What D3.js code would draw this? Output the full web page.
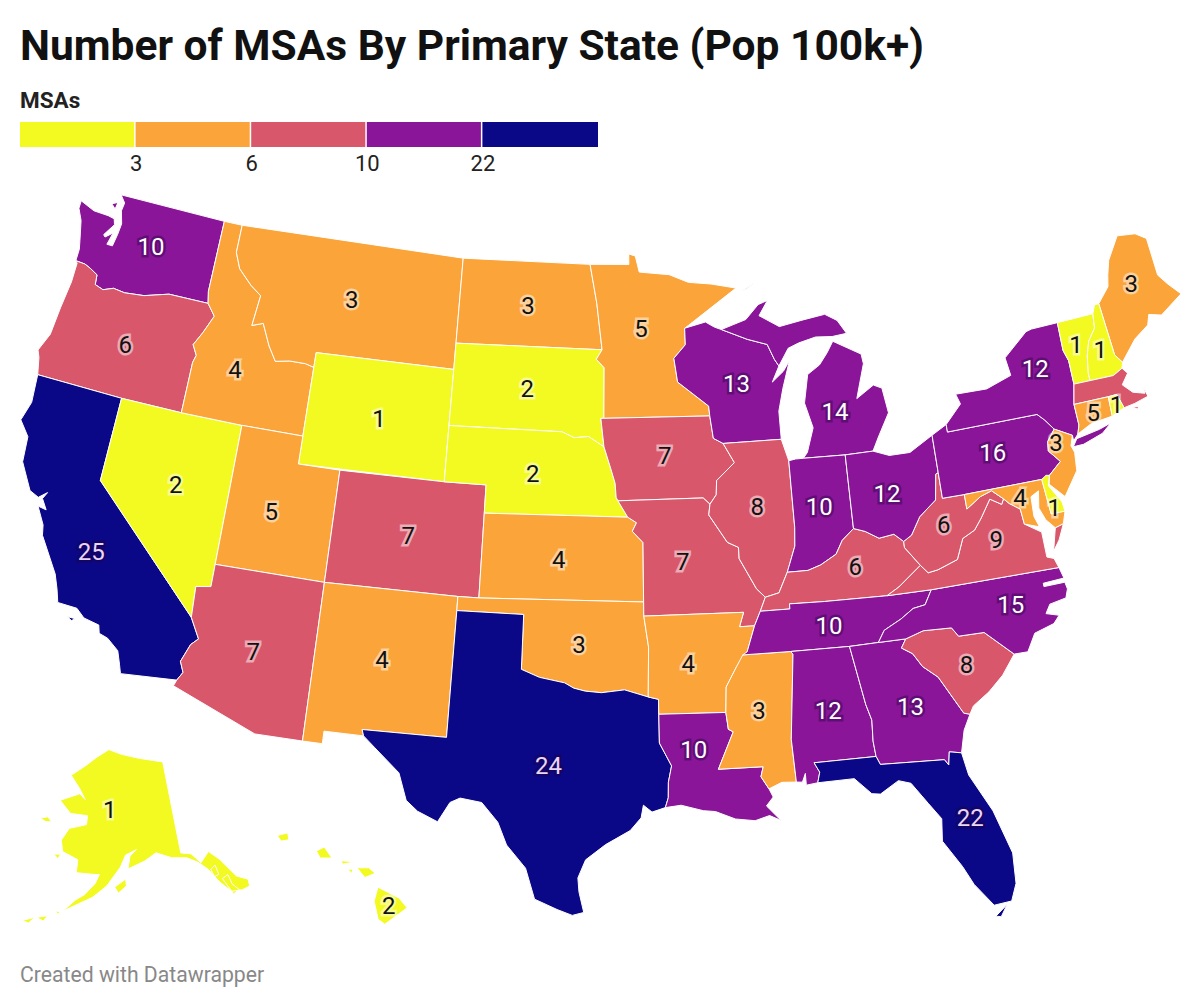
<!DOCTYPE html>
<html>
<head>
<meta charset="utf-8">
<script src="https://cdn.jsdelivr.net/npm/d3@7"></script>
<style>
  body { margin: 0; background: #fff; font-family: Roboto, sans-serif; }
  text { font-family: Roboto, sans-serif; }
</style>
</head>
<body>
<div id="chart"></div>
<script>
// chart values
const stateNames = ['WA','OR','CA','NV','ID','MT','WY','UT','CO','AZ','NM','ND','SD','NE','KS','OK','TX','MN','IA','MO','AR','LA','WI','IL','MS','MI','IN','KY','TN','AL','GA','FL','SC','NC','VA','WV','OH','PA','NY','ME','VT','NH','MA','CT','RI','NJ','MD','DE','AK','HI']
const msaCounts  = [10,6,25,2,4,3,1,5,7,7,4,3,2,2,4,3,24,5,7,7,4,10,13,8,3,14,10,6,10,12,13,22,8,15,9,6,12,16,12,3,1,1,6,5,1,3,4,1,1,2]
// label anchors in degrees (MA has no label in the picture)
const labelLon = [-120.5,-120.5,-119.6,-116.55,-114.9,-109.65,-107.5,-111.95,-105.5,-111.7,-106.1,-100.45,-100.3,-99.85,-98.5,-97.5,-98.7,-94.55,-93.5,-92.8,-92.7,-92.6,-89.8,-89.2,-89.75,-85.05,-86.3,-84.95,-86.4,-86.8,-83.3,-81.5,-80.65,-78.3,-78.4,-80.65,-83.05,-77.8,-74.95,-69.2,-72.7,-71.6,null,-72.7,-71.5,-74.75,-76.95,-75.5,-155.8,-155.5]
const labelLat = [47.5,43.9,36.5,39.5,43.9,47.07,43.0,39.2,39.0,34.2,34.55,47.45,44.5,41.5,38.5,35.5,31.2,46.7,42.15,38.4,34.8,31.75,44.6,40.2,33.0,43.3,40.0,37.75,35.8,32.8,32.6,28.4,33.8,35.6,37.95,38.8,40.2,41.0,43.6,45.7,44.1,43.7,null,41.6,41.7,40.9,39.25,38.65,65.3,19.6]

// colour bins
const binBreaks = [3, 6, 10, 22]
const binColors = ['#f2fa21', '#faa43a', '#d9576b', '#8a1599', '#0b0887']

const titleText = 'Number of MSAs By Primary State (Pop 100k+)'
const legendTitle = 'MSAs'
const footerText = 'Created with Datawrapper'

// state outlines, lon/lat rings
const outlines = {
  WA: [[[-124.7,48.38],[-123.9,48.17],[-123.1,48.15],[-122.75,48.1],[-122.65,47.9],[-123.05,47.45],[-122.95,47.38],[-122.6,47.6],[-122.75,47.15],[-122.45,47.15],[-122.35,47.6],[-122.3,48.0],[-122.5,48.45],[-122.45,48.75],[-122.75,49.0],[-117.03,49.0],[-117.04,46.42],[-116.92,46.0],[-118.98,46.0],[-119.3,45.93],[-120.2,45.73],[-121.2,45.65],[-121.8,45.7],[-122.3,45.55],[-122.75,45.65],[-122.8,46.0],[-123.2,46.15],[-123.55,46.25],[-124.05,46.27],[-124.05,46.7],[-124.15,47.0],[-124.4,47.7],[-124.7,48.1]],
       [[-123.1,48.6],[-122.8,48.7],[-122.85,48.45]]],
  OR: [[[-124.05,46.27],[-123.55,46.25],[-123.2,46.15],[-122.8,46.0],[-122.75,45.65],[-122.3,45.55],[-121.8,45.7],[-121.2,45.65],[-120.2,45.73],[-119.3,45.93],[-118.98,46.0],[-116.92,46.0],[-116.47,45.6],[-116.85,44.95],[-117.2,44.45],[-116.93,44.1],[-117.03,43.83],[-117.03,42.0],[-120,42],[-124.21,42],[-124.4,42.6],[-124.55,42.84],[-124.2,43.5],[-124.1,44.5],[-123.95,45.5],[-123.95,46.2]]],
  CA: [[[-124.21,42],[-120,42],[-120,39],[-114.63,35.0],[-114.14,34.3],[-114.43,34.05],[-114.72,33.4],[-114.52,33.03],[-114.72,32.72],[-117.12,32.53],[-117.25,32.85],[-117.45,33.3],[-118.0,33.65],[-118.4,33.75],[-118.5,34.03],[-119.2,34.15],[-119.6,34.42],[-120.47,34.45],[-120.65,34.9],[-120.9,35.4],[-121.9,36.6],[-122.0,36.96],[-122.45,37.55],[-122.05,37.5],[-122.35,37.85],[-122.2,38.1],[-122.55,37.85],[-123.0,38.0],[-123.7,38.9],[-123.8,39.8],[-124.35,40.3],[-124.1,41.0]],
       [[-119.9,34.05],[-119.55,34.05],[-119.7,33.95]]],
  NV: [[[-120,42],[-117.03,42],[-114.04,42],[-114.04,37],[-114.04,36.2],[-114.7,36.1],[-114.63,35],[-120,39]]],
  ID: [[[-117.03,49],[-116.05,49],[-116.05,48],[-115.7,47.45],[-114.95,46.95],[-114.35,46.65],[-114.5,45.55],[-113.95,45.7],[-113.45,44.95],[-113,44.45],[-112.3,44.55],[-111.5,44.55],[-111.05,44.47],[-111.05,42],[-114.04,42],[-117.03,42],[-117.03,43.83],[-116.93,44.1],[-117.2,44.45],[-116.85,44.95],[-116.47,45.6],[-116.92,46],[-117.04,46.42]]],
  MT: [[[-116.05,49],[-104.05,49],[-104.05,45.94],[-104.05,45],[-111.05,45],[-111.05,44.47],[-111.5,44.55],[-112.3,44.55],[-113,44.45],[-113.45,44.95],[-113.95,45.7],[-114.5,45.55],[-114.35,46.65],[-114.95,46.95],[-115.7,47.45],[-116.05,48]]],
  WY: [[[-111.05,45],[-104.05,45],[-104.05,43],[-104.05,41],[-111.05,41],[-111.05,42]]],
  UT: [[[-114.04,42],[-111.05,42],[-111.05,41],[-109.05,41],[-109.05,37],[-114.04,37]]],
  CO: [[[-109.05,41],[-104.05,41],[-102.05,41],[-102.05,40],[-102.05,37],[-103,37],[-109.05,37]]],
  AZ: [[[-114.04,37],[-109.05,37],[-109.05,31.33],[-111.07,31.33],[-114.81,32.5],[-114.72,32.72],[-114.52,33.03],[-114.72,33.4],[-114.43,34.05],[-114.14,34.3],[-114.63,35],[-114.7,36.1],[-114.04,36.2]]],
  NM: [[[-109.05,37],[-103,37],[-103,36.5],[-103.04,32],[-106.62,32],[-106.53,31.78],[-108.21,31.78],[-108.21,31.33],[-109.05,31.33]]],
  ND: [[[-104.05,49],[-97.23,49],[-96.85,47.6],[-96.56,45.94],[-104.05,45.94]]],
  SD: [[[-104.05,45.94],[-96.56,45.94],[-96.85,45.6],[-96.45,45.3],[-96.45,43.5],[-96.6,43.5],[-96.44,42.49],[-97.2,42.85],[-97.9,42.8],[-98.5,43],[-104.05,43]]],
  NE: [[[-104.05,43],[-98.5,43],[-97.9,42.8],[-97.2,42.85],[-96.44,42.49],[-96.1,41.7],[-95.9,41.2],[-95.85,40.7],[-95.31,40],[-102.05,40],[-102.05,41],[-104.05,41]]],
  KS: [[[-102.05,40],[-95.31,40],[-94.9,39.8],[-95.1,39.5],[-94.61,39.1],[-94.62,37],[-102.05,37]]],
  OK: [[[-103,37],[-102.05,37],[-94.62,37],[-94.62,36.5],[-94.43,35.4],[-94.48,33.64],[-95.5,33.9],[-96.5,33.8],[-97.2,33.85],[-97.7,33.95],[-98.1,34.13],[-99.2,34.3],[-100,34.56],[-100,36.5],[-103,36.5]]],
  TX: [[[-106.62,32],[-103.04,32],[-103,36.5],[-100,36.5],[-100,34.56],[-99.2,34.3],[-98.1,34.13],[-97.7,33.95],[-97.2,33.85],[-96.5,33.8],[-95.5,33.9],[-94.48,33.64],[-94.04,33.55],[-94.04,33.02],[-94.04,32],[-93.55,31.18],[-93.7,30.6],[-93.72,30.05],[-93.85,29.7],[-94.4,29.55],[-94.75,29.8],[-94.85,29.35],[-95.3,28.9],[-96.3,28.4],[-97.1,27.85],[-97.4,27.2],[-97.35,26.7],[-97.15,25.96],[-97.6,25.85],[-98.2,26.05],[-99.1,26.4],[-99.5,27.5],[-100.3,28.3],[-100.7,29.1],[-101.4,29.77],[-102.3,29.88],[-102.7,29.7],[-103.15,28.98],[-104,29.3],[-104.5,29.65],[-104.9,30.6],[-106,31.4],[-106.53,31.78]]],
  MN: [[[-97.23,49],[-95.15,49],[-95.15,49.38],[-94.8,49.3],[-94.6,48.72],[-93,48.6],[-92,48.3],[-90.8,48.2],[-89.5,48],[-92.1,46.75],[-92.29,46.66],[-92.29,46.07],[-92.9,45.6],[-92.75,44.75],[-91.25,43.85],[-91.22,43.5],[-96.45,43.5],[-96.45,45.3],[-96.85,45.6],[-96.56,45.94],[-96.85,47.6]]],
  IA: [[[-96.45,43.5],[-91.22,43.5],[-91.1,42.7],[-90.64,42.5],[-90.15,41.8],[-91.05,41.2],[-91.1,40.7],[-91.42,40.38],[-91.73,40.61],[-95.77,40.58],[-95.85,40.7],[-95.9,41.2],[-96.1,41.7],[-96.44,42.49],[-96.6,43.5]]],
  MO: [[[-95.77,40.58],[-91.73,40.61],[-91.42,40.38],[-91.5,40],[-90.7,39],[-90.2,38.8],[-90.2,38.4],[-89.5,37.3],[-89.13,36.98],[-89.4,36.5],[-89.7,36],[-90.37,36],[-90.15,36.5],[-94.62,36.5],[-94.62,37],[-94.61,39.1],[-95.1,39.5],[-94.9,39.8],[-95.31,40]]],
  AR: [[[-94.62,36.5],[-90.15,36.5],[-90.37,36],[-89.7,36],[-90.1,35.1],[-90.6,34.6],[-91.1,33.9],[-91.17,33],[-94.04,33.02],[-94.04,33.55],[-94.48,33.64],[-94.43,35.4]]],
  LA: [[[-94.04,33.02],[-91.17,33],[-91.1,32.4],[-90.9,32.3],[-91.6,31],[-89.73,31],[-89.85,30.65],[-89.55,30.2],[-89.4,29.9],[-89.7,29.6],[-89.15,29.05],[-89.6,29.25],[-90.2,29.1],[-91,29.2],[-91.8,29.5],[-92.3,29.55],[-93.2,29.77],[-93.85,29.7],[-93.72,30.05],[-93.7,30.6],[-93.55,31.18],[-94.04,32]]],
  WI: [[[-92.29,46.66],[-91.2,46.85],[-90.75,46.65],[-90.4,46.55],[-89.1,46.14],[-88.1,45.9],[-87.8,45.35],[-87.6,45.1],[-88,44.55],[-87.4,44.9],[-87.05,45.25],[-87.5,44.3],[-87.8,43.5],[-87.8,42.5],[-90.64,42.5],[-91.1,42.7],[-91.22,43.5],[-91.25,43.85],[-92.75,44.75],[-92.9,45.6],[-92.29,46.07]]],
  IL: [[[-90.64,42.5],[-87.8,42.5],[-87.53,41.72],[-87.53,39.35],[-87.6,38.7],[-87.95,38],[-88.05,37.8],[-88.5,37.1],[-89.13,36.98],[-89.5,37.3],[-90.2,38.4],[-90.2,38.8],[-90.7,39],[-91.5,40],[-91.42,40.38],[-91.1,40.7],[-91.05,41.2],[-90.15,41.8]]],
  MS: [[[-90.3,35],[-88.2,35],[-88.1,34.9],[-88.47,31.9],[-88.4,30.37],[-89,30.4],[-89.55,30.2],[-89.85,30.65],[-89.73,31],[-91.6,31],[-90.9,32.3],[-91.1,32.4],[-91.17,33],[-91.1,33.9],[-90.6,34.6]]],
  MI: [[[-86.82,41.76],[-84.8,41.72],[-83.45,41.73],[-83.1,42.2],[-82.45,43],[-82.6,43.9],[-83,44.05],[-83.9,43.65],[-83.35,44.85],[-83.4,45.2],[-84.75,45.78],[-85.1,45.4],[-85.55,45],[-86.2,44.7],[-86.5,43.7],[-86.2,42.8],[-86.6,41.95]],
       [[-90.4,46.55],[-89.1,46.85],[-88.4,47.35],[-87.9,47.47],[-88.4,46.95],[-87.4,46.5],[-86.2,46.65],[-85,46.77],[-84.4,46.5],[-84,46],[-84.75,45.95],[-85.6,46],[-86.5,45.85],[-87.05,45.7],[-87.6,45.1],[-87.8,45.35],[-88.1,45.9],[-89.1,46.14]],
       [[-89.2,47.87],[-88.45,48.17],[-88.95,47.95]]],
  IN: [[[-87.53,41.72],[-87.2,41.76],[-86.82,41.76],[-84.8,41.72],[-84.82,39.1],[-85.4,38.73],[-85.75,38.27],[-86.5,37.95],[-87.1,37.8],[-88.05,37.8],[-87.95,38],[-87.6,38.7],[-87.53,39.35]]],
  KY: [[[-89.4,36.5],[-88.07,36.5],[-88.07,36.68],[-86.5,36.65],[-83.68,36.6],[-83.1,36.85],[-82,37.5],[-82.6,38.2],[-82.6,38.42],[-83,38.72],[-83.7,38.65],[-84.3,38.95],[-84.82,39.1],[-85.4,38.73],[-85.75,38.27],[-86.5,37.95],[-87.1,37.8],[-88.05,37.8],[-88.5,37.1],[-89.13,36.98]]],
  TN: [[[-90.3,35],[-88.2,35],[-85.6,34.98],[-84.32,35],[-84,35.4],[-83.2,35.72],[-82.6,36.03],[-82.05,36.1],[-81.68,36.59],[-83.68,36.6],[-86.5,36.65],[-88.07,36.68],[-88.07,36.5],[-89.4,36.5],[-89.7,36],[-90.1,35.1]]],
  AL: [[[-88.2,35],[-85.6,34.98],[-85.18,32.87],[-85,32.3],[-85.05,31.55],[-85,31],[-87.6,31],[-87.4,30.65],[-87.52,30.28],[-88,30.23],[-88,30.65],[-88.15,30.35],[-88.4,30.37],[-88.47,31.9],[-88.1,34.9]]],
  GA: [[[-85.6,34.98],[-84.32,35],[-83.11,35],[-83.35,34.7],[-82.9,34.45],[-82.55,33.95],[-81.95,33.5],[-81.4,32.6],[-81.1,32.1],[-80.85,32.03],[-81.2,31.5],[-81.45,30.72],[-81.95,30.82],[-82.05,30.36],[-82.2,30.57],[-84.86,30.7],[-85,31],[-85.05,31.55],[-85,32.3],[-85.18,32.87]]],
  FL: [[[-87.6,31],[-85,31],[-84.86,30.7],[-82.2,30.57],[-82.05,30.36],[-81.95,30.82],[-81.45,30.72],[-81.3,29.9],[-80.55,28.5],[-80.05,26.9],[-80.12,25.8],[-80.4,25.2],[-81.1,25.15],[-81.75,26],[-82.1,26.7],[-82.75,27.7],[-82.65,28.5],[-83.1,29.1],[-83.7,29.9],[-84.2,30.05],[-85,29.65],[-85.35,29.7],[-86,30.3],[-87.52,30.28],[-87.4,30.65]],
       [[-80.6,25.1],[-81.1,24.75],[-80.9,24.7]]],
  SC: [[[-83.11,35],[-82.3,35.2],[-81.05,35.15],[-80.8,34.82],[-79.67,34.8],[-78.55,33.86],[-79.2,33.2],[-79.9,32.7],[-80.65,32.3],[-80.85,32.03],[-81.1,32.1],[-81.4,32.6],[-81.95,33.5],[-82.55,33.95],[-82.9,34.45],[-83.35,34.7]]],
  NC: [[[-84.32,35],[-83.11,35],[-82.3,35.2],[-81.05,35.15],[-80.8,34.82],[-79.67,34.8],[-78.55,33.86],[-77.95,33.85],[-77.5,34.45],[-76.6,34.65],[-76.3,34.9],[-76.85,35.05],[-76.6,35.35],[-75.85,35.45],[-75.7,35.75],[-75.75,36.0],[-76.7,36.0],[-76.7,36.12],[-75.75,36.15],[-75.87,36.55],[-81.68,36.59],[-82.05,36.1],[-82.6,36.03],[-83.2,35.72],[-84,35.4]]],
  VA: [[[-83.68,36.6],[-81.68,36.59],[-75.87,36.55],[-76,36.9],[-76.3,37],[-76.3,37.9],[-77,38.3],[-77.05,38.85],[-77.5,39.12],[-77.72,39.32],[-77.85,39.14],[-78.35,39.4],[-78.9,38.8],[-79.3,38.42],[-79.9,38.2],[-80.3,37.5],[-81.25,37.25],[-81.7,37.2],[-82,37.5],[-83.1,36.85]],
       [[-75.95,37.15],[-75.65,37.95],[-75.25,38.03],[-75.6,37.5]]],
  WV: [[[-82.6,38.42],[-82.6,38.2],[-82,37.5],[-81.7,37.2],[-81.25,37.25],[-80.3,37.5],[-79.9,38.2],[-79.3,38.42],[-78.9,38.8],[-78.35,39.4],[-77.85,39.14],[-77.72,39.32],[-78.2,39.68],[-78.75,39.55],[-79.48,39.2],[-79.48,39.72],[-80.52,39.72],[-80.52,40.64],[-80.65,40.6],[-80.85,39.7],[-81.7,39.2],[-82.2,38.6]]],
  OH: [[[-84.8,41.72],[-83.45,41.73],[-82.7,41.5],[-81.7,41.5],[-80.52,41.98],[-80.52,40.64],[-80.65,40.6],[-80.85,39.7],[-81.7,39.2],[-82.2,38.6],[-82.6,38.42],[-83,38.72],[-83.7,38.65],[-84.3,38.95],[-84.82,39.1]]],
  PA: [[[-80.52,41.98],[-79.76,42.27],[-79.76,42],[-75.35,42],[-75.05,41.75],[-74.7,41.36],[-75.13,40.98],[-75.2,40.65],[-74.75,40.2],[-75.4,39.8],[-75.79,39.72],[-79.48,39.72],[-80.52,39.72],[-80.52,40.64]]],
  NY: [[[-79.76,42.27],[-78.9,42.9],[-79.05,43.27],[-77.5,43.25],[-76.2,43.55],[-76.3,44.2],[-75,44.95],[-74.7,45],[-73.35,45.01],[-73.4,44],[-73.25,43.6],[-73.27,42.75],[-73.5,42.05],[-73.5,41.3],[-73.65,41],[-73.92,40.8],[-73.92,41],[-74.7,41.36],[-75.05,41.75],[-75.35,42],[-79.76,42]],
       [[-74,40.6],[-73.75,40.85],[-72.6,40.98],[-72,41.1],[-72.5,40.82],[-73.5,40.6]]],
  ME: [[[-71.08,45.3],[-70.4,45.8],[-70.25,46.2],[-70,46.7],[-69.23,47.46],[-68.3,47.35],[-67.8,47.07],[-67.8,45.7],[-67.45,45.3],[-66.95,44.82],[-68.2,44.3],[-68.8,44.45],[-69,44.1],[-69.8,43.75],[-70.7,43.07],[-70.98,43.4]]],
  VT: [[[-73.35,45.01],[-71.5,45.01],[-71.6,44.5],[-72.05,44.1],[-72.3,43.6],[-72.46,43],[-72.46,42.73],[-73.27,42.75],[-73.25,43.6],[-73.4,44]]],
  NH: [[[-71.5,45.01],[-71.3,45.3],[-71.08,45.3],[-70.98,43.4],[-70.7,43.07],[-70.8,42.87],[-71.3,42.7],[-72.46,42.73],[-72.46,43],[-72.3,43.6],[-72.05,44.1],[-71.6,44.5]]],
  MA: [[[-73.5,42.05],[-73.27,42.75],[-71.3,42.7],[-70.8,42.87],[-70.6,42.65],[-71,42.3],[-70.6,41.95],[-70.05,41.8],[-70.05,42.05],[-69.95,41.67],[-70.65,41.55],[-71.2,41.5],[-71.38,42.02],[-71.8,42.02]],
       [[-70.8,41.45],[-70.5,41.4],[-70.6,41.33]]],
  CT: [[[-73.5,42.05],[-71.8,42.02],[-71.85,41.32],[-72.9,41.25],[-73.65,41],[-73.5,41.3]]],
  RI: [[[-71.8,42.02],[-71.38,42.02],[-71.2,41.5],[-71.85,41.32]]],
  NJ: [[[-74.7,41.36],[-73.92,41],[-74.1,40.65],[-74,40.4],[-74.1,39.75],[-74.9,38.95],[-75.5,39.5],[-75.4,39.8],[-74.75,40.2],[-75.2,40.65],[-75.13,40.98]]],
  MD: [[[-79.48,39.72],[-75.79,39.72],[-75.7,38.46],[-75.05,38.45],[-75.25,38.03],[-75.65,37.95],[-76,38.3],[-76.2,38.75],[-76.05,39.35],[-76.45,39.2],[-76.5,38.5],[-76.35,38.1],[-77,38.3],[-77.05,38.85],[-77.5,39.12],[-77.72,39.32],[-78.2,39.68],[-78.75,39.55],[-79.48,39.2]]],
  DE: [[[-75.79,39.72],[-75.55,39.83],[-75.4,39.8],[-75.55,39.45],[-75.1,38.8],[-75.05,38.45],[-75.7,38.46]]],
  AK: [[[-156.6,71.35],[-153,70.9],[-148,70.4],[-144,70],[-141,69.65],[-141,60.3],[-139,60],[-137.5,58.9],[-135.5,59.8],[-133.8,58.7],[-131.8,56.6],[-130,55.9],[-130.2,55.2],[-131.6,55.1],[-133.5,55.3],[-135,56.5],[-136.5,58.1],[-138,59],[-140,59.7],[-143,60],[-146,60.7],[-148.5,60],[-151.9,59.3],[-151.4,60.6],[-150,61.2],[-152.3,60.7],[-153.4,59.5],[-156,57.6],[-158.5,56.4],[-161,55.6],[-163.5,54.7],[-161.5,56],[-160,56.6],[-158.2,57.8],[-157.5,58.7],[-159,58.7],[-162,58.7],[-162,60],[-165.3,60.6],[-166,61.7],[-164.7,63],[-161,63.6],[-161,64.5],[-165,64.5],[-168,65.6],[-163.5,66.6],[-162,66.1],[-163.7,67.1],[-166.5,68.3],[-163,69.5],[-160,70.5]],
       [[-154.5,57.5],[-152.4,58.3],[-152.3,57.6],[-153.8,56.9]],
       [[-167,60.2],[-165.6,60.3],[-166,59.8]],
       [[-171.5,63.4],[-170,63.7],[-168.8,63.3],[-170.2,63.2]],
       [[-164.8,54.6],[-163.9,54.6],[-164.3,54.35]],
       [[-167.8,53.6],[-166,54],[-166.5,53.4]],
       [[-170,53],[-168,53.6],[-168.9,52.9]],
       [[-136,58],[-135,58.3],[-134.8,57.3],[-135.7,57.2]],
       [[-134.4,56.8],[-133.2,57],[-133,56],[-132.1,55.2],[-133.3,55]]],
  HI: [[[-155.9,20.25],[-155.1,19.85],[-154.8,19.5],[-155.65,18.92],[-155.9,19.1],[-156.05,19.75]],
       [[-156.7,20.95],[-156.25,20.95],[-156,20.75],[-156.4,20.6]],
       [[-157.3,21.2],[-156.75,21.17],[-157.25,21.08]],
       [[-157.05,20.9],[-156.85,20.9],[-156.9,20.75]],
       [[-158.25,21.55],[-157.95,21.7],[-157.65,21.3],[-158.1,21.3]],
       [[-159.75,22.1],[-159.35,22.2],[-159.3,21.95],[-159.6,21.9]]]
}

const width = 1200
const height = 1008

const projMain = d3.geoAlbers().scale(1607).translate([600, 554])
const projAlaska = d3.geoConicEqualArea().rotate([154, 0]).center([-2, 58.5]).parallels([55, 65]).scale(570).translate([107, 877])
const projHawaii = d3.geoConicEqualArea().rotate([157, 0]).center([-3, 19.9]).parallels([8, 18]).scale(1600).translate([270, 896.5])

const projectionFor = (name) => name === 'AK' ? projAlaska : name === 'HI' ? projHawaii : projMain

const color = d3.scaleThreshold().domain(binBreaks).range(binColors)

const svg = d3.select('#chart')
    .append('svg')
    .attr('width', width)
    .attr('height', height)

// title
svg.append('text')
    .attr('x', 20)
    .attr('y', 60)
    .attr('font-size', 42.5)
    .attr('font-weight', 700)
    .attr('fill', '#111')
    .text(titleText)

// legend
svg.append('text')
    .attr('x', 20)
    .attr('y', 108)
    .attr('font-size', 22.5)
    .attr('font-weight', 700)
    .attr('fill', '#222')
    .text(legendTitle)

const legendX = d3.scaleLinear().domain([0, binColors.length]).range([20, 598])

svg.append('g').selectAll('rect')
    .data(binColors)
    .enter()
    .append('rect')
    .attr('x', (d, i) => legendX(i))
    .attr('y', 122)
    .attr('width', (d, i) => legendX(i + 1) - legendX(i) - (i < binColors.length - 1 ? 1.5 : 0))
    .attr('height', 25)
    .attr('fill', d => d)

const legendAxis = d3.axisBottom(legendX)
    .tickValues(binBreaks.map((d, i) => i + 1))
    .tickFormat((d, i) => binBreaks[i])
    .tickSize(0)
    .tickPadding(8)

const legendG = svg.append('g')
    .attr('transform', 'translate(0,147)')
    .call(legendAxis)
legendG.select('.domain').remove()
legendG.selectAll('text')
    .attr('font-size', 22)
    .attr('font-family', 'Roboto, sans-serif')
    .attr('fill', '#222')

// states
const ringPath = d3.line().curve(d3.curveLinearClosed)

const states = stateNames.map((name, i) => ({
    name,
    value: msaCounts[i],
    lon: labelLon[i],
    lat: labelLat[i]
}))

svg.append('g').selectAll('path')
    .data(states)
    .enter()
    .append('path')
    .attr('class', 'state')
    .attr('d', d => outlines[d.name]
        .map(ring => ringPath(ring.map(projectionFor(d.name))))
        .join(''))
    .attr('fill', d => color(d.value))
    .attr('stroke', '#fff')
    .attr('stroke-width', 1)
    .attr('stroke-linejoin', 'round')

// value labels with a halo
const labelFill = (v) => v >= 22 ? '#ead6f5' : v >= 10 ? '#fff' : '#111'

svg.append('g').selectAll('text')
    .data(states.filter(d => d.lon !== null))
    .enter()
    .append('text')
    .attr('transform', d => 'translate(' + projectionFor(d.name)([d.lon, d.lat]) + ')')
    .attr('text-anchor', 'middle')
    .attr('dy', '0.36em')
    .attr('font-size', 24)
    .attr('fill', d => labelFill(d.value))
    .attr('stroke', d => d.value >= 10 ? 'rgba(30,0,60,0.4)' : 'rgba(255,255,255,0.5)')
    .attr('stroke-width', 5)
    .attr('paint-order', 'stroke')
    .text(d => d.value)

// footer
svg.append('text')
    .attr('x', 20)
    .attr('y', 982)
    .attr('font-size', 21.2)
    .attr('fill', '#888')
    .text(footerText)
</script>
</body>
</html>
